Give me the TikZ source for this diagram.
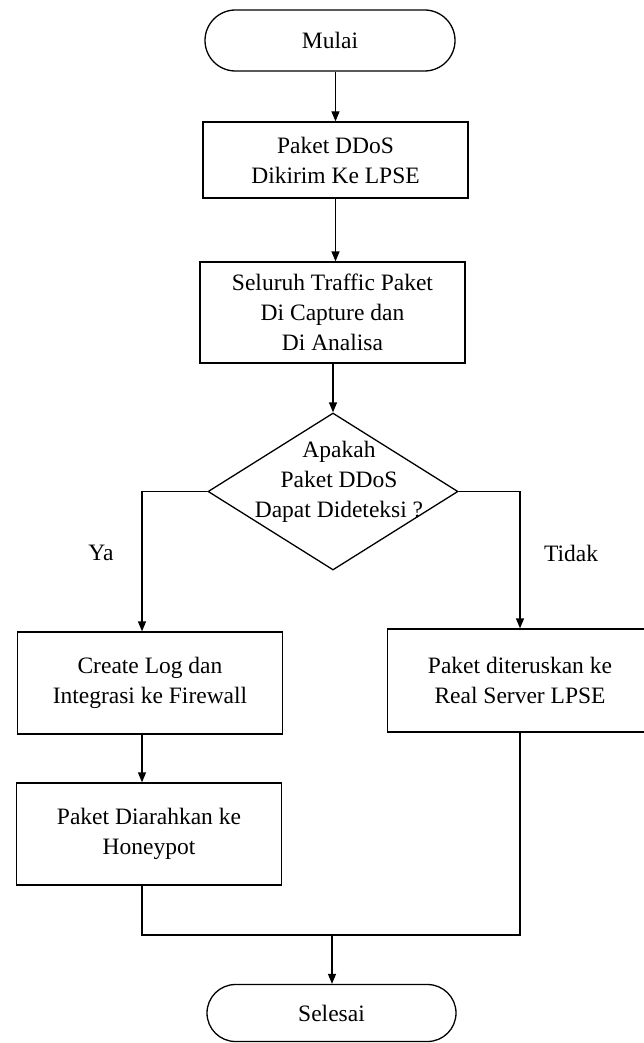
\documentclass[tikz,border=0pt]{standalone}
\usepackage{fontspec}
\setmainfont{Liberation Serif}
\usetikzlibrary{shapes.geometric,shapes.misc,arrows.meta}
\begin{document}
\begin{tikzpicture}[x=1pt,y=-1pt,
  line width=1.3pt,
  every node/.style={font=\fontsize{23.5}{30}\selectfont, text=black},
  terminal/.style={draw, rounded rectangle, minimum width=250pt, minimum height=61pt, inner sep=0pt},
  process/.style={draw, rectangle, minimum width=265pt, inner sep=0pt, align=center},
  decision/.style={draw, diamond, minimum width=250pt, minimum height=157pt, inner sep=0pt},
  arr/.style={-{Triangle[length=10pt,width=8pt]}},
  lbl/.style={inner sep=0pt, align=center}]

\useasboundingbox (0,0) rectangle (644,1043);

% flow elements
\node[terminal] (mulai) at (330,40.5) {Mulai};
\node[process, minimum height=76pt] (b1) at (335.5,160) {Paket DDoS\\Dikirim Ke LPSE};
\node[process, minimum height=101pt] (b2) at (332.5,312.5) {Seluruh Traffic Paket\\Di Capture dan\\Di Analisa};
\node[decision] (dec) at (333,491.5) {};
\node[lbl] (dectext) at (339,482) {Apakah\\Paket DDoS\\Dapat Dideteksi ?};
\node[process, minimum height=102pt] (b3) at (150,683) {Create Log dan\\Integrasi ke Firewall};
\node[process, minimum height=103pt] (b4) at (520,680.5) {Paket diteruskan ke\\Real Server LPSE};
\node[process, minimum height=102pt] (b5) at (149,834) {Paket Diarahkan ke\\Honeypot};
\node[terminal, minimum width=249pt, minimum height=57pt] (selesai) at (331.5,1013) {Selesai};

% branch labels
\node[lbl] (ya) at (101,553) {Ya};
\node[lbl] (tidak) at (571,553) {Tidak};

% connectors
\coordinate (m) at (332,935);
\draw[arr] (b1.north |- mulai.south) -- (b1.north);
\draw[arr] (b1.south) -- (b1.south |- b2.north);
\draw[arr] (b2.south -| dec.north) -- (dec.north);
\draw[arr] (dec.west) -| ([xshift=-8pt]b3.north);
\draw[arr] (dec.east) -| (b4.north);
\draw[arr] ([xshift=-8pt]b3.south) -- ([xshift=-8pt]b3.south |- b5.north);
\draw ([xshift=-7pt]b5.south) |- (b4.south |- m) -- (b4.south);
\draw[arr] (m) -- (m |- selesai.north);
\end{tikzpicture}
\end{document}
